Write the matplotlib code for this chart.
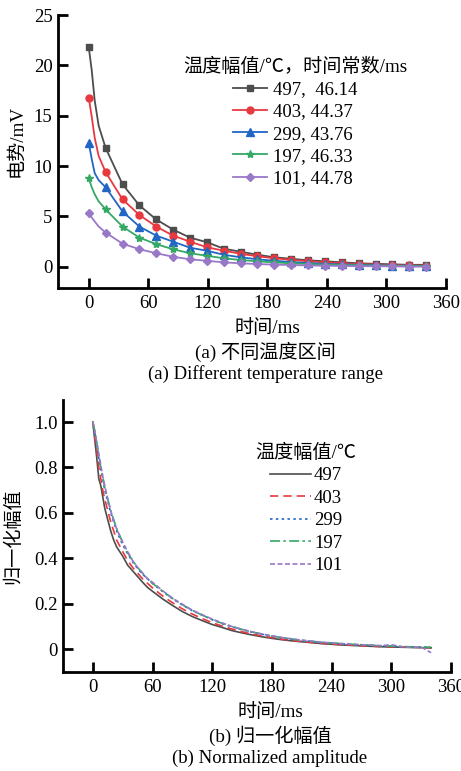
import matplotlib
matplotlib.use("Agg")
import matplotlib.pyplot as plt

plt.rcParams['font.family'] = ['Liberation Serif', 'Noto Sans CJK SC', 'DejaVu Sans']

# ---------------- data (a) ----------------
t_a = [0, 3, 6, 10, 17, 34, 51, 68, 85, 102, 119, 136, 153, 170, 187, 204, 221, 238, 255, 272, 289, 306, 323, 340]
v497 = [21.8, 19.5, 16.5, 14.0, 11.8, 8.2, 6.1, 4.7, 3.7, 2.9, 2.45, 1.8, 1.5, 1.2, 0.95, 0.8, 0.65, 0.55, 0.45, 0.35, 0.3, 0.25, 0.2, 0.2]
v403 = [16.8, 14.9, 12.8, 11.0, 9.4, 6.7, 5.15, 4.0, 3.1, 2.5, 1.95, 1.6, 1.3, 1.05, 0.85, 0.7, 0.55, 0.45, 0.35, 0.28, 0.22, 0.18, 0.15, 0.12]
v299 = [12.3, 10.7, 9.3, 8.6, 7.9, 5.5, 4.0, 3.1, 2.5, 1.9, 1.6, 1.2, 0.95, 0.75, 0.6, 0.48, 0.38, 0.3, 0.24, 0.2, 0.16, 0.13, 0.11, 0.09]
v197 = [8.8, 7.9, 7.2, 6.5, 5.7, 4.0, 2.9, 2.25, 1.75, 1.35, 1.1, 0.85, 0.68, 0.55, 0.44, 0.35, 0.28, 0.22, 0.18, 0.15, 0.12, 0.1, 0.08, 0.07]
v101 = [5.3, 4.9, 4.5, 4.0, 3.4, 2.3, 1.75, 1.35, 1.0, 0.75, 0.6, 0.45, 0.35, 0.28, 0.22, 0.18, 0.14, 0.11, 0.09, 0.07, 0.06, 0.05, 0.02, 0.02]
marker_idx = [0] + list(range(4, 24))
labels_a = ['497,  46.14', '403, 44.37', '299, 43.76', '197, 46.33', '101, 44.78']

# ---------------- data (b) ----------------
t_b = [0, 2, 4, 6, 8, 10, 12, 15, 18, 21, 24, 27, 30, 35, 40, 45, 50, 55, 60, 70, 80, 90, 100, 110, 120,
       130, 140, 150, 160, 170, 180, 190, 200, 210, 220, 230, 240, 250, 260, 270, 280, 290, 300, 310, 320, 330, 340]
n497 = [1.0, 0.92, 0.84, 0.75, 0.72, 0.67, 0.62, 0.57, 0.52, 0.48, 0.45, 0.43, 0.41, 0.37, 0.345, 0.32, 0.295, 0.272, 0.255,
        0.222, 0.193, 0.166, 0.144, 0.126, 0.109, 0.096, 0.082, 0.072, 0.063, 0.055, 0.048, 0.042, 0.037, 0.033, 0.029,
        0.025, 0.022, 0.019, 0.017, 0.015, 0.013, 0.011, 0.010, 0.009, 0.008, 0.007, 0.006]
n403 = [1.0, 0.93, 0.87, 0.80, 0.75, 0.70, 0.66, 0.61, 0.56, 0.52, 0.48, 0.455, 0.43, 0.39, 0.36, 0.335, 0.31, 0.29, 0.27,
        0.235, 0.205, 0.178, 0.155, 0.135, 0.117, 0.102, 0.089, 0.077, 0.067, 0.059, 0.051, 0.045, 0.039, 0.034, 0.030,
        0.026, 0.023, 0.020, 0.018, 0.016, 0.014, 0.012, 0.011, 0.010, 0.009, 0.008, 0.007]
n299 = [1.0, 0.95, 0.90, 0.84, 0.79, 0.75, 0.70, 0.65, 0.60, 0.56, 0.52, 0.49, 0.46, 0.42, 0.385, 0.355, 0.33, 0.31, 0.29,
        0.255, 0.222, 0.195, 0.170, 0.150, 0.130, 0.113, 0.099, 0.086, 0.075, 0.066, 0.058, 0.050, 0.044, 0.039, 0.034,
        0.030, 0.027, 0.024, 0.021, 0.019, 0.017, 0.015, 0.013, 0.011, 0.010, 0.009, 0.008]
n197 = [1.0, 0.96, 0.91, 0.85, 0.80, 0.76, 0.71, 0.66, 0.61, 0.57, 0.53, 0.50, 0.47, 0.425, 0.39, 0.36, 0.335, 0.31, 0.29,
        0.256, 0.224, 0.196, 0.171, 0.150, 0.131, 0.114, 0.100, 0.087, 0.076, 0.067, 0.058, 0.051, 0.045, 0.039, 0.035,
        0.031, 0.028, 0.025, 0.022, 0.020, 0.018, 0.015, 0.014, 0.012, 0.011, 0.010, 0.009]
n101 = [1.0, 0.96, 0.91, 0.86, 0.81, 0.76, 0.72, 0.66, 0.61, 0.565, 0.53, 0.50, 0.47, 0.43, 0.39, 0.36, 0.335, 0.31, 0.295,
        0.258, 0.225, 0.198, 0.172, 0.152, 0.133, 0.116, 0.100, 0.088, 0.077, 0.067, 0.059, 0.052, 0.046, 0.040, 0.036,
        0.031, 0.028, 0.025, 0.022, 0.020, 0.018, 0.016, 0.020, 0.012, 0.008, 0.010, -0.015]
labels_b = ['497', '403', '299', '197', '101']

colors = ['#4d4d4d', '#e8393f', '#2166c4', '#35a865', '#9a78c8']
markers = ['s', 'o', '^', '*', 'D']
msizes = [4.5, 5, 5.5, 6, 4.5]
styles_b = ['-', (0, (5, 3)), (0, (1.5, 2)), (0, (6, 2, 1.5, 2)), (0, (3, 1.5))]

FS = 13.5   # latin
FC = 13.8   # chinese

fig = plt.figure(figsize=(4.61, 7.71), dpi=100)

def style_axes(ax):
    for s in ['top', 'right']:
        ax.spines[s].set_visible(False)
    for s in ['left', 'bottom']:
        ax.spines[s].set_linewidth(2.0)
    ax.tick_params(direction='in', length=7, width=2.0, labelsize=FS, pad=5)
    ax.tick_params(axis='y', pad=4)

# ---------------- (a) ----------------
ax1 = fig.add_axes([58/461, 1-288/771, 388/461, 273/771])
series_a = [v497, v403, v299, v197, v101]
for v, c, m, ms, lab in zip(series_a, colors, markers, msizes, labels_a):
    ax1.plot(t_a, v, color=c, lw=1.3, marker=m, ms=ms, markevery=marker_idx, label=lab)
ax1.set_xlim(-31, 360)
ax1.set_ylim(-2.1, 25)
ax1.set_xticks([0, 60, 120, 180, 240, 300, 360])
ax1.set_yticks([0, 5, 10, 15, 20, 25])
style_axes(ax1)
ax1.set_ylabel('电势/mV', fontsize=FC)
ax1.yaxis.set_label_coords(-0.083, 0.54)
leg1 = ax1.legend(loc='upper center', bbox_to_anchor=(0.611, 0.877), frameon=False, fontsize=FS,
                  title='温度幅值/℃，时间常数/ms', title_fontsize=FC, handlelength=1.85,
                  handletextpad=0.32, labelspacing=0.27, borderpad=0)
leg1._legend_box.align = 'center'

fig.text(267/461, 1-328/771, '时间/ms', ha='center', va='center', fontsize=FC)
fig.text(265/461, 1-352/771, '(a) 不同温度区间', ha='center', va='center', fontsize=FC)
fig.text(265/461, 1-374/771, '(a) Different temperature range', ha='center', va='center', fontsize=FS)

# ---------------- (b) ----------------
ax2 = fig.add_axes([63/461, 1-672/771, 388/461, 272/771])
series_b = [n497, n403, n299, n197, n101]
for v, c, ls, lab in zip(series_b, colors, styles_b, labels_b):
    ax2.plot(t_b, v, color=c, lw=1.2, linestyle=ls, label=lab)
ax2.set_xlim(-30, 360)
ax2.set_ylim(-0.1, 1.097)
ax2.set_xticks([0, 60, 120, 180, 240, 300, 360])
ax2.set_yticks([0, 0.2, 0.4, 0.6, 0.8, 1.0])
ax2.set_yticklabels(['0', '0.2', '0.4', '0.6', '0.8', '1.0'])
style_axes(ax2)
ax2.set_ylabel('归一化幅值', fontsize=FC)
ax2.yaxis.set_label_coords(-0.105, 0.5)
leg2 = ax2.legend(loc='upper center', bbox_to_anchor=(0.626, 0.875), frameon=False, fontsize=FS,
                  title='温度幅值/℃', title_fontsize=FC, handlelength=2.2,
                  handletextpad=0.16, labelspacing=0.29, borderpad=0)
leg2._legend_box.align = 'center'

fig.text(270/461, 1-712/771, '时间/ms', ha='center', va='center', fontsize=FC)
fig.text(270/461, 1-736/771, '(b) 归一化幅值', ha='center', va='center', fontsize=FC)
fig.text(270/461, 1-758/771, '(b) Normalized amplitude', ha='center', va='center', fontsize=FS)

fig.savefig('out.png', dpi=100)
